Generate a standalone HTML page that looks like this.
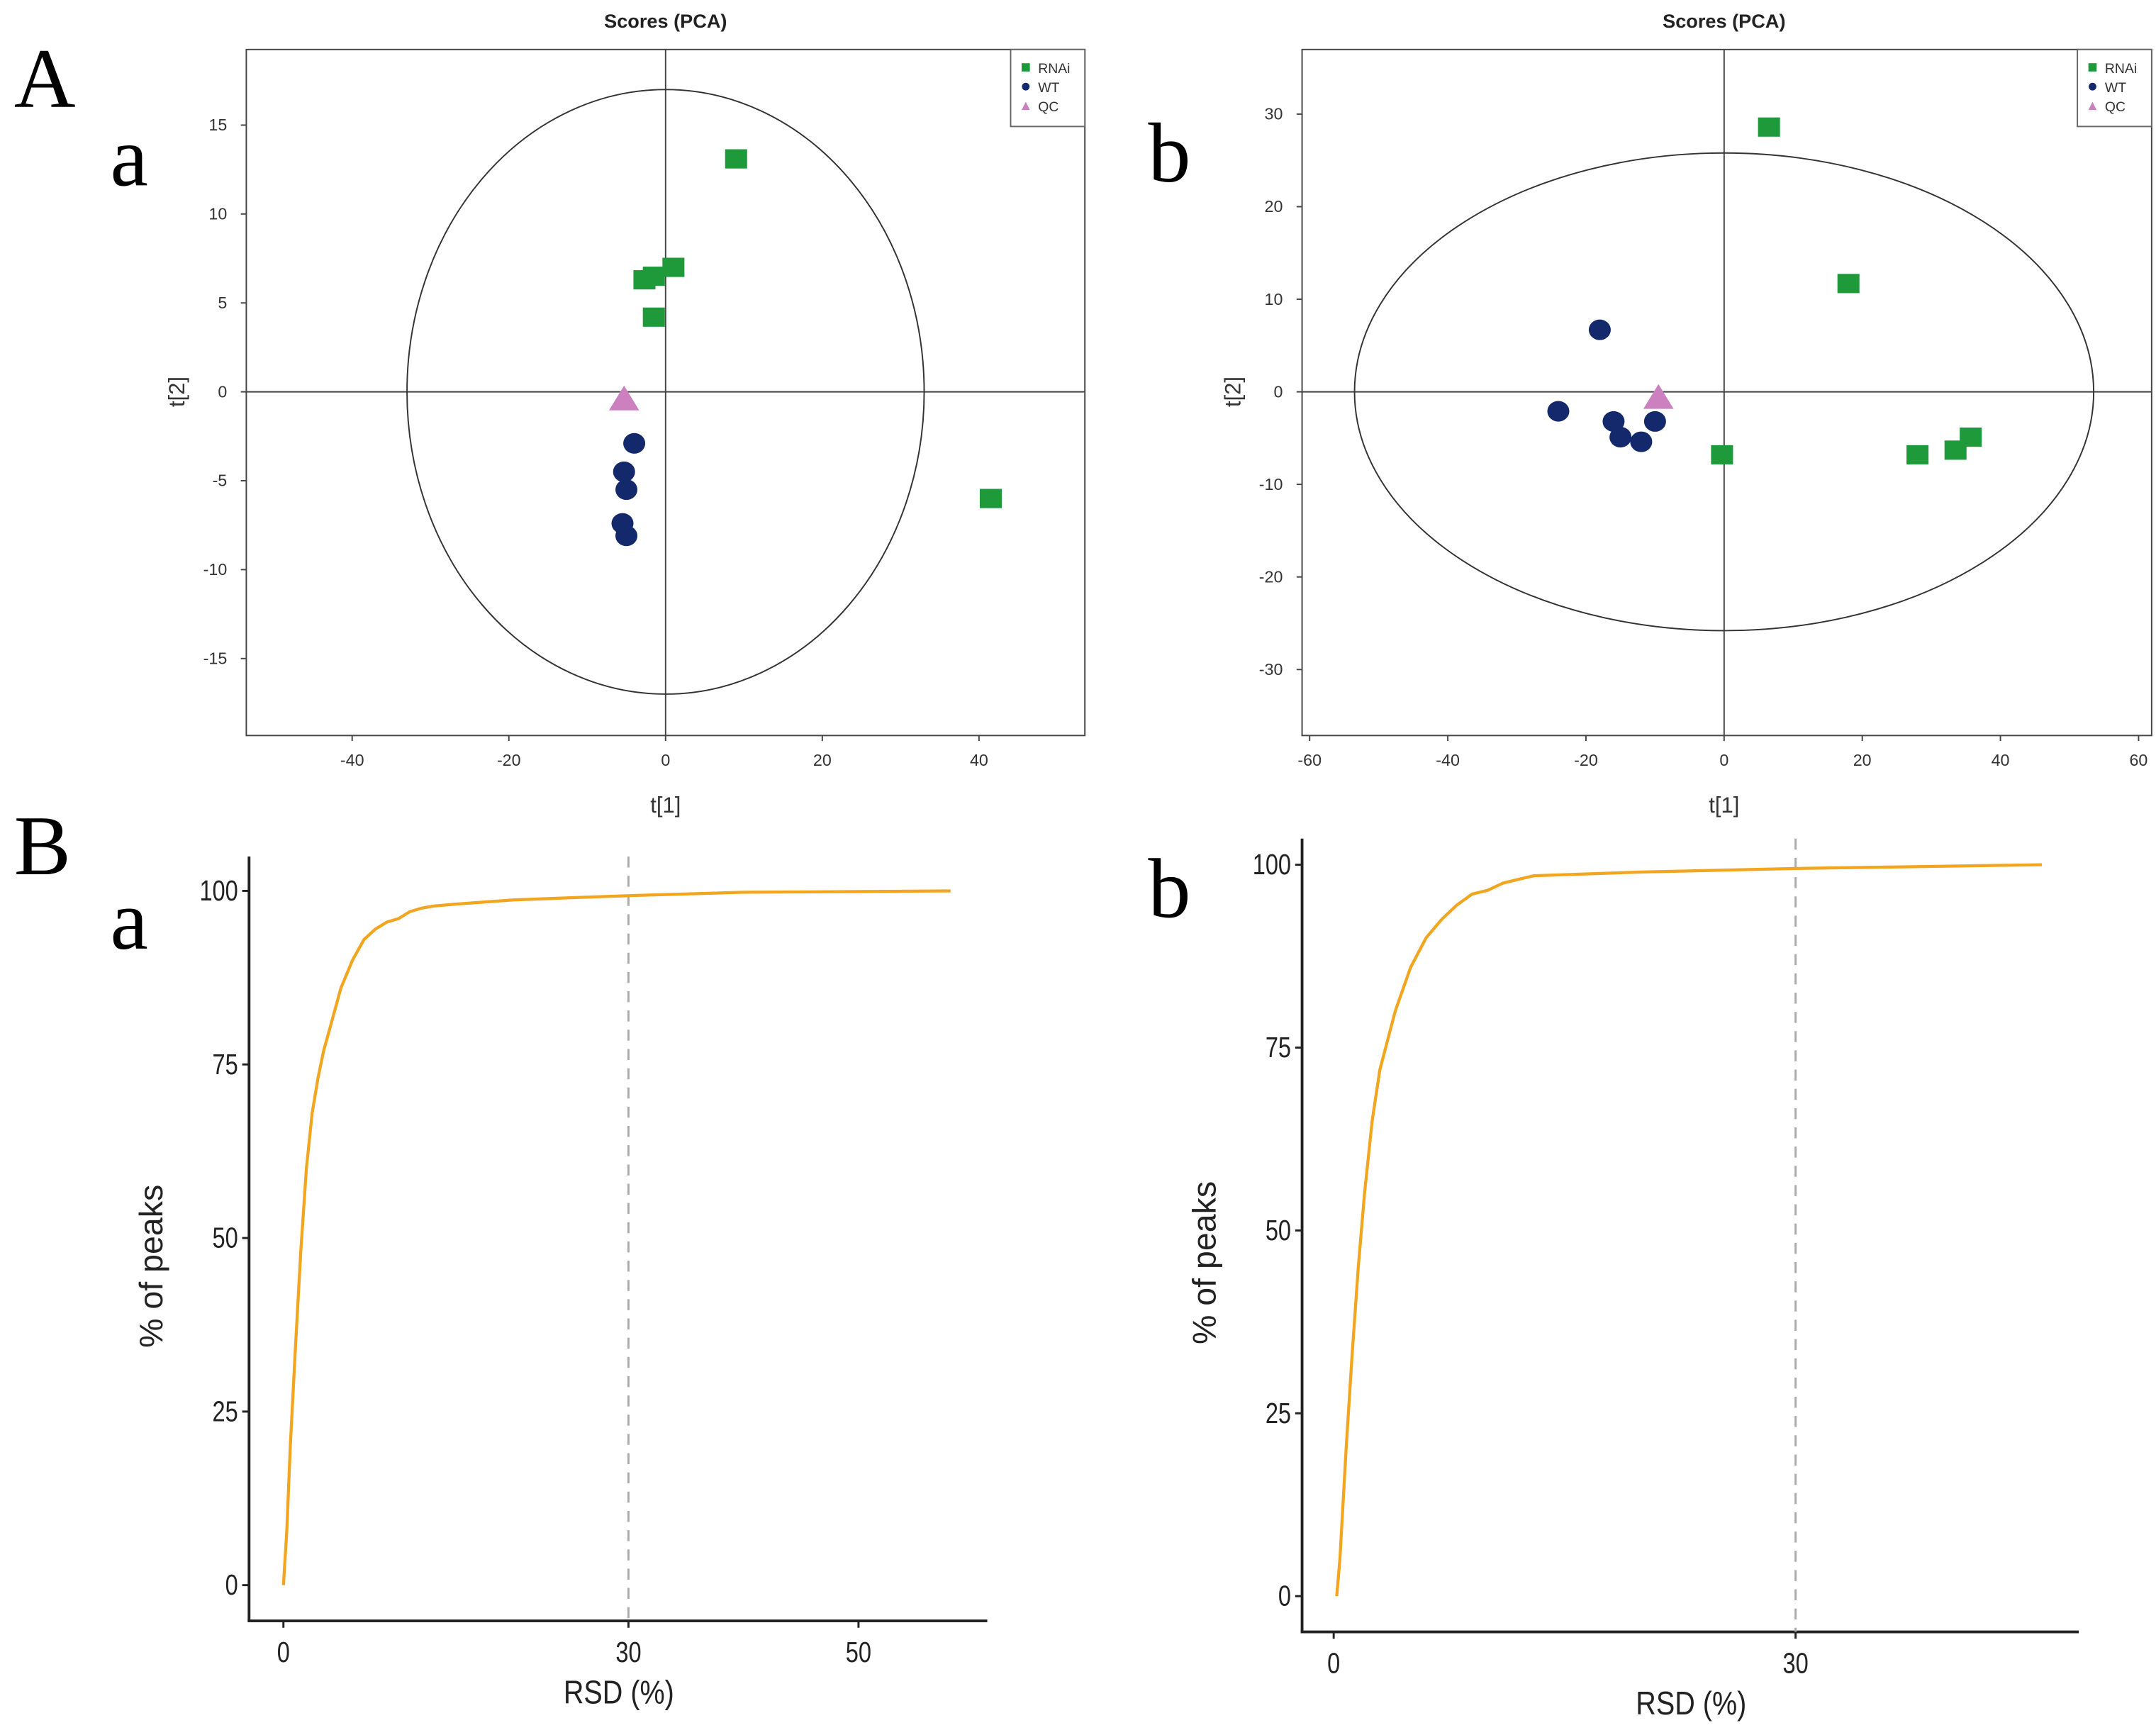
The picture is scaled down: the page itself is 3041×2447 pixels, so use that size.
<!DOCTYPE html>
<html><head><meta charset="utf-8"><style>
html,body{margin:0;padding:0;background:#fff;}
svg{display:block;}
text{font-family:"Liberation Sans",sans-serif;}
.serif{font-family:"Liberation Serif",serif;}
</style></head><body>
<svg id="fig" xmlns="http://www.w3.org/2000/svg" width="3041" height="2447" viewBox="0 0 1568 1262">
<rect width="1568" height="1262" fill="#fff"/>
<g id="labels">
<text class="serif" x="10" y="78" font-size="62">A</text>
<text class="serif" x="80" y="135" font-size="62">a</text>
<text class="serif" x="835" y="132" font-size="62">b</text>
<text class="serif" x="10" y="636" font-size="62">B</text>
<text class="serif" x="80" y="690" font-size="62">a</text>
<text class="serif" x="835" y="667" font-size="62">b</text>
</g>
<g id="chartAa"></g>
<g id="chartAb"></g>
<g id="chartBa"></g>
<g id="chartBb"></g>
</svg>
<script>
// ---- PCA a data ----
const aXTicks = [-40,-20,0,20,40];
const aYTicks = [15,10,5,0,-5,-10,-15];
const aRnaiX = [9,1,-2.7,-1.5,-1.5,41.5];
const aRnaiY = [13.1,7,6.3,6.5,4.2,-6];
const aWtX = [-4,-5.3,-5,-5.5,-5];
const aWtY = [-2.9,-4.5,-5.5,-7.4,-8.1];
const aQcX = [-5.3];
const aQcY = [-0.5];
const aEllipse = [33,17];
// ---- PCA b data ----
const bXTicks = [-60,-40,-20,0,20,40,60];
const bYTicks = [30,20,10,0,-10,-20,-30];
const bRnaiX = [6.5,18,-0.3,28,33.5,35.7];
const bRnaiY = [28.6,11.7,-6.8,-6.8,-6.3,-4.9];
const bWtX = [-18,-24,-16,-15,-12,-10];
const bWtY = [6.7,-2.1,-3.2,-4.9,-5.4,-3.2];
const bQcX = [-9.5];
const bQcY = [-0.8];
const bEllipse = [53.5,25.8];
// ---- RSD a data ----
const raXTicks = [0,30,50];
const raYTicks = [0,25,50,75,100];
const raRsd = [0,0.3,0.6,1,1.5,2,2.5,3,3.5,4,5,6,7,8,9,10,11,12,13,15,20,25,30,40,50,58];
const raPct = [0,8,20,33,48,60,68,73,77,80,86,90,93,94.5,95.5,96,97,97.5,97.8,98.1,98.7,99,99.3,99.8,99.9,100];
// ---- RSD b data ----
const rbXTicks = [0,30];
const rbYTicks = [0,25,50,75,100];
const rbRsd = [0.2,0.4,0.8,1.2,1.6,2,2.5,3,3.5,4,5,6,7,8,9,10,11,12,13,20,30,46];
const rbPct = [0,5,20,33,45,55,65,72,76,80,86,90,92.5,94.5,96,96.5,97.5,98,98.5,99,99.5,100];

const NS='http://www.w3.org/2000/svg';
function mk(parent,tag,attrs){const e=document.createElementNS(NS,tag);for(const k in attrs)e.setAttribute(k,attrs[k]);parent.appendChild(e);return e;}
function lin(d0,d1,r0,r1){return v=>r0+(v-d0)*(r1-r0)/(d1-d0);}

function pca(gid,cfg){
  const g=document.getElementById(gid);
  const {L,R,T,B,sx,sy,xt,yt,rx,ry,title,ex,ey}=cfg;
  const box=mk(g,'rect',{x:L,y:T,width:R-L,height:B-T,fill:'none',stroke:'#444','stroke-width':1});
  
  
  const t=mk(g,'text',{x:(sx(0)),y:T-16,'font-size':14,'font-weight':'bold','text-anchor':'middle',fill:'#222'});t.textContent=title;
  
  
  const h=mk(g,'line',{x1:L,x2:R,y1:sy(0),y2:sy(0),stroke:'#444','stroke-width':1});
  
  
  const v=mk(g,'line',{x1:sx(0),x2:sx(0),y1:T,y2:B,stroke:'#444','stroke-width':1});
  
  
  const el=mk(g,'ellipse',{cx:sx(0),cy:sy(0),rx:sx(ex)-sx(0),ry:sy(0)-sy(ey),fill:'none',stroke:'#333','stroke-width':1});
  
  
  xt.forEach(x=>{mk(g,'line',{x1:sx(x),x2:sx(x),y1:B,y2:B+4,stroke:'#444'});
    const tx=mk(g,'text',{x:sx(x),y:B+22,'font-size':12,'text-anchor':'middle',fill:'#333'});tx.textContent=x;
    
    });
  yt.forEach(y=>{mk(g,'line',{x1:L-4,x2:L,y1:sy(y),y2:sy(y),stroke:'#444'});
    const ty=mk(g,'text',{x:L-14,y:sy(y)+4,'font-size':12,'text-anchor':'end',fill:'#333'});ty.textContent=y;
    
    });
  const xl=mk(g,'text',{x:sx(0),y:B+56,'font-size':16,'text-anchor':'middle',fill:'#333'});xl.textContent='t[1]';
  
  
  const yl=mk(g,'text',{x:0,y:0,'font-size':16,'text-anchor':'middle',fill:'#333',transform:`translate(${L-45},${sy(0)}) rotate(-90)`});yl.textContent='t[2]';
  
  
  // legend
  const lg=mk(g,'g',{});
  
  
  mk(lg,'rect',{x:R-54,y:T,width:54,height:56,fill:'#fff',stroke:'#666','stroke-width':1});
  const items=[['RNAi','sq','#1f9a3a'],['WT','ci','#14296b'],['QC','tr','#cc80bf']];
  items.forEach((it,i)=>{const yy=T+13+i*14;const mx=R-43;
    if(it[1]==='sq')mk(lg,'rect',{x:mx-3,y:yy-3,width:6,height:6,fill:it[2]});
    else if(it[1]==='ci')mk(lg,'circle',{cx:mx,cy:yy,r:2.8,fill:it[2]});
    else mk(lg,'polygon',{points:`${mx-3},${yy+3} ${mx+3},${yy+3} ${mx},${yy-3}`,fill:it[2]});
    const lt=mk(lg,'text',{x:mx+9,y:yy+4,'font-size':10,fill:'#333'});lt.textContent=it[0];
    
    });
  // points
  cfg.wtX.forEach((x,i)=>{const c=mk(g,'ellipse',{cx:sx(x),cy:sy(cfg.wtY[i]),rx:8,ry:7.5,fill:'#14296b'});
    
    });
  cfg.qcX.forEach((x,i)=>{const X=sx(x),Y=sy(cfg.qcY[i]);const p=mk(g,'polygon',{points:`${X-11},${Y+7} ${X+11},${Y+7} ${X},${Y-11}`,fill:'#cc80bf'});
    
    });
  cfg.rX.forEach((x,i)=>{const r=mk(g,'rect',{x:sx(x)-8,y:sy(cfg.rY[i])-7,width:16,height:14,fill:'#1f9a3a'});
    
    });
}

pca('chartAa',{L:179,R:789,T:36,B:535,sx:lin(0,40,484,712),sy:lin(0,15,285,91),xt:aXTicks,yt:aYTicks,title:'Scores (PCA)',ex:aEllipse[0],ey:aEllipse[1],rX:aRnaiX,rY:aRnaiY,wtX:aWtX,wtY:aWtY,qcX:aQcX,qcY:aQcY});
pca('chartAb',{L:947,R:1565,T:36,B:535,sx:lin(0,40,1254,1455),sy:lin(0,30,285,83),xt:bXTicks,yt:bYTicks,title:'Scores (PCA)',ex:bEllipse[0],ey:bEllipse[1],rX:bRnaiX,rY:bRnaiY,wtX:bWtX,wtY:bWtY,qcX:bQcX,qcY:bQcY});

function rsd(gid,cfg){
  const g=document.getElementById(gid);
  const {L,R,T,B,sx,sy,xt,yt,xs,ys}=cfg;
  const ya=mk(g,'line',{x1:L,x2:L,y1:T,y2:B,stroke:'#222','stroke-width':2});
  
  
  const xa=mk(g,'line',{x1:L-1,x2:R,y1:B,y2:B,stroke:'#222','stroke-width':2});
  
  
  const d=mk(g,'line',{x1:sx(30),x2:sx(30),y1:T,y2:B,stroke:'#aaa','stroke-width':1.5,'stroke-dasharray':'8,6'});
  
  
  xt.forEach(x=>{mk(g,'line',{x1:sx(x),x2:sx(x),y1:B,y2:B+5,stroke:'#222','stroke-width':1.5});
    const tx=mk(g,'text',{x:sx(x),y:B+30,'font-size':21,'text-anchor':'middle',fill:'#222',transform:`translate(${sx(x)},0) scale(0.8,1) translate(${-sx(x)},0)`});tx.textContent=x;
    
    });
  yt.forEach(y=>{mk(g,'line',{x1:L-5,x2:L,y1:sy(y),y2:sy(y),stroke:'#222','stroke-width':1.5});
    const ty=mk(g,'text',{x:L-8,y:sy(y)+7,'font-size':21,'text-anchor':'end',fill:'#222',transform:`translate(${L-8},0) scale(0.8,1) translate(${-(L-8)},0)`});ty.textContent=y;
    
    });
  const xl=mk(g,'text',{x:cfg.xlx,y:B+60,'font-size':24,'text-anchor':'middle',fill:'#222',transform:`translate(${cfg.xlx},0) scale(0.85,1) translate(${-cfg.xlx},0)`});xl.textContent='RSD (%)';
  
  
  const yl=mk(g,'text',{x:0,y:0,'font-size':24,'text-anchor':'middle',fill:'#222',transform:`translate(${L-63},${(T+B)/2+20}) rotate(-90)`});yl.textContent='% of peaks';
  
  
  const pts=xs.map((x,i)=>sx(x).toFixed(1)+','+sy(ys[i]).toFixed(1)).join(' ');
  const p=mk(g,'polyline',{points:pts,fill:'none',stroke:'#f2a51e','stroke-width':2.2,'stroke-linejoin':'round'});
  
  
}
rsd('chartBa',{L:181,R:718,T:623,B:1179,sx:lin(0,30,206,457),sy:lin(0,100,1153,648),xt:raXTicks,yt:raYTicks,xs:raRsd,ys:raPct,xlx:450});
rsd('chartBb',{L:947,R:1512,T:610,B:1187,sx:lin(0,30,970,1306),sy:lin(0,100,1161,629),xt:rbXTicks,yt:rbYTicks,xs:rbRsd,ys:rbPct,xlx:1230});
</script>
</body></html>
